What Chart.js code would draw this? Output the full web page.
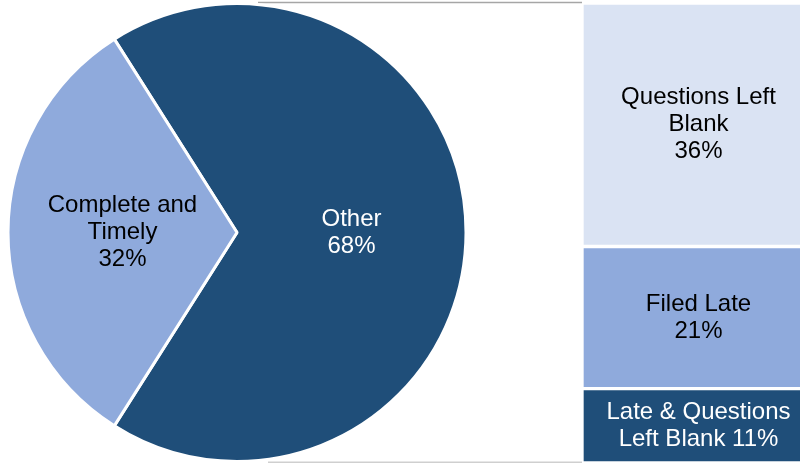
<!DOCTYPE html>
<html>
<head>
<meta charset="utf-8">
<script src="https://cdn.jsdelivr.net/npm/chart.js@4.4.1/dist/chart.umd.min.js"></script>
<style>
  html, body { margin: 0; padding: 0; background: #fff; overflow: hidden; }
  #wrap { position: relative; width: 800px; height: 463px; overflow: hidden; }
  #pie { position: absolute; left: 0; top: 0; }
  #bar { position: absolute; left: 582px; top: 0; }
</style>
</head>
<body>
<div id="wrap">
  <canvas id="pie" width="800" height="463"></canvas>
  <canvas id="bar" width="233" height="463"></canvas>
</div>
<script>
// ---- data ----
const pieLabels = [["Other", "68%"], ["Complete and", "Timely", "32%"]];
const pieValues = [68, 32];
const pieColors = ["#1F4E79", "#8FAADC"];
const pieTextColors = ["#FFFFFF", "#000000"];

// stacked bar, bottom to top
const barLabels = [["Late & Questions", "Left Blank 11%"], ["Filed Late", "21%"], ["Questions Left", "Blank", "36%"]];
const barValues = [11, 21, 36];
const barColors = ["#1F4E79", "#8FAADC", "#DAE3F3"];
const barTextColors = ["#FFFFFF", "#000000", "#000000"];

const FONT = "24px 'Liberation Sans', Arial, sans-serif";
const LINE_H = 27;

function drawMultiline(ctx, lines, x, y, color) {
  ctx.save();
  ctx.font = FONT;
  ctx.fillStyle = color;
  ctx.textAlign = "center";
  ctx.textBaseline = "middle";
  const start = y - (lines.length - 1) * LINE_H / 2;
  lines.forEach((l, i) => ctx.fillText(l, x, start + i * LINE_H));
  ctx.restore();
}

const pieLabelPlugin = {
  id: "pieLabels",
  beforeDatasetsDraw(chart) {
    // connector lines from pie to bar
    const ctx = chart.ctx;
    ctx.save();
    ctx.lineWidth = 1.5;
    ctx.strokeStyle = "#A6A6A6";
    ctx.beginPath(); ctx.moveTo(258, 2.5); ctx.lineTo(582, 2.5); ctx.stroke();
    ctx.strokeStyle = "#CFCFCF";
    ctx.beginPath(); ctx.moveTo(268, 462.3); ctx.lineTo(582, 462.3); ctx.stroke();
    ctx.restore();
  },
  afterDatasetsDraw(chart) {
    const meta = chart.getDatasetMeta(0);
    meta.data.forEach((arc, i) => {
      const p = arc.tooltipPosition();
      drawMultiline(chart.ctx, pieLabels[i], p.x, p.y, pieTextColors[i]);
    });
  }
};

new Chart(document.getElementById("pie"), {
  type: "pie",
  data: {
    labels: pieLabels.map(l => l.join(" ")),
    datasets: [{
      data: pieValues,
      backgroundColor: pieColors,
      borderColor: "#FFFFFF",
      borderWidth: 3
    }]
  },
  options: {
    responsive: false,
    animation: false,
    rotation: -32.4,
    layout: { padding: { left: 6, top: 2, bottom: 0, right: 332 } },
    plugins: { legend: { display: false }, tooltip: { enabled: false } }
  },
  plugins: [pieLabelPlugin]
});

const barLabelPlugin = {
  id: "barLabels",
  afterDatasetsDraw(chart) {
    chart.data.datasets.forEach((ds, i) => {
      const el = chart.getDatasetMeta(i).data[0];
      const cy = (el.y + el.base) / 2;
      drawMultiline(chart.ctx, barLabels[i], el.x, cy, barTextColors[i]);
    });
  }
};

new Chart(document.getElementById("bar"), {
  type: "bar",
  data: {
    labels: [""],
    datasets: barValues.map((v, i) => ({
      label: barLabels[i].join(" "),
      data: [v],
      backgroundColor: barColors[i],
      borderColor: "#FFFFFF",
      borderWidth: 2,
      borderSkipped: false,
      categoryPercentage: 1,
      barPercentage: 1
    }))
  },
  options: {
    responsive: false,
    animation: false,
    layout: { padding: { top: 3, bottom: 0, left: 0, right: 0 } },
    scales: {
      x: { display: false, stacked: true },
      y: { display: false, stacked: true, min: 0, max: 68 }
    },
    plugins: { legend: { display: false }, tooltip: { enabled: false } }
  },
  plugins: [barLabelPlugin]
});
</script>
</body>
</html>
